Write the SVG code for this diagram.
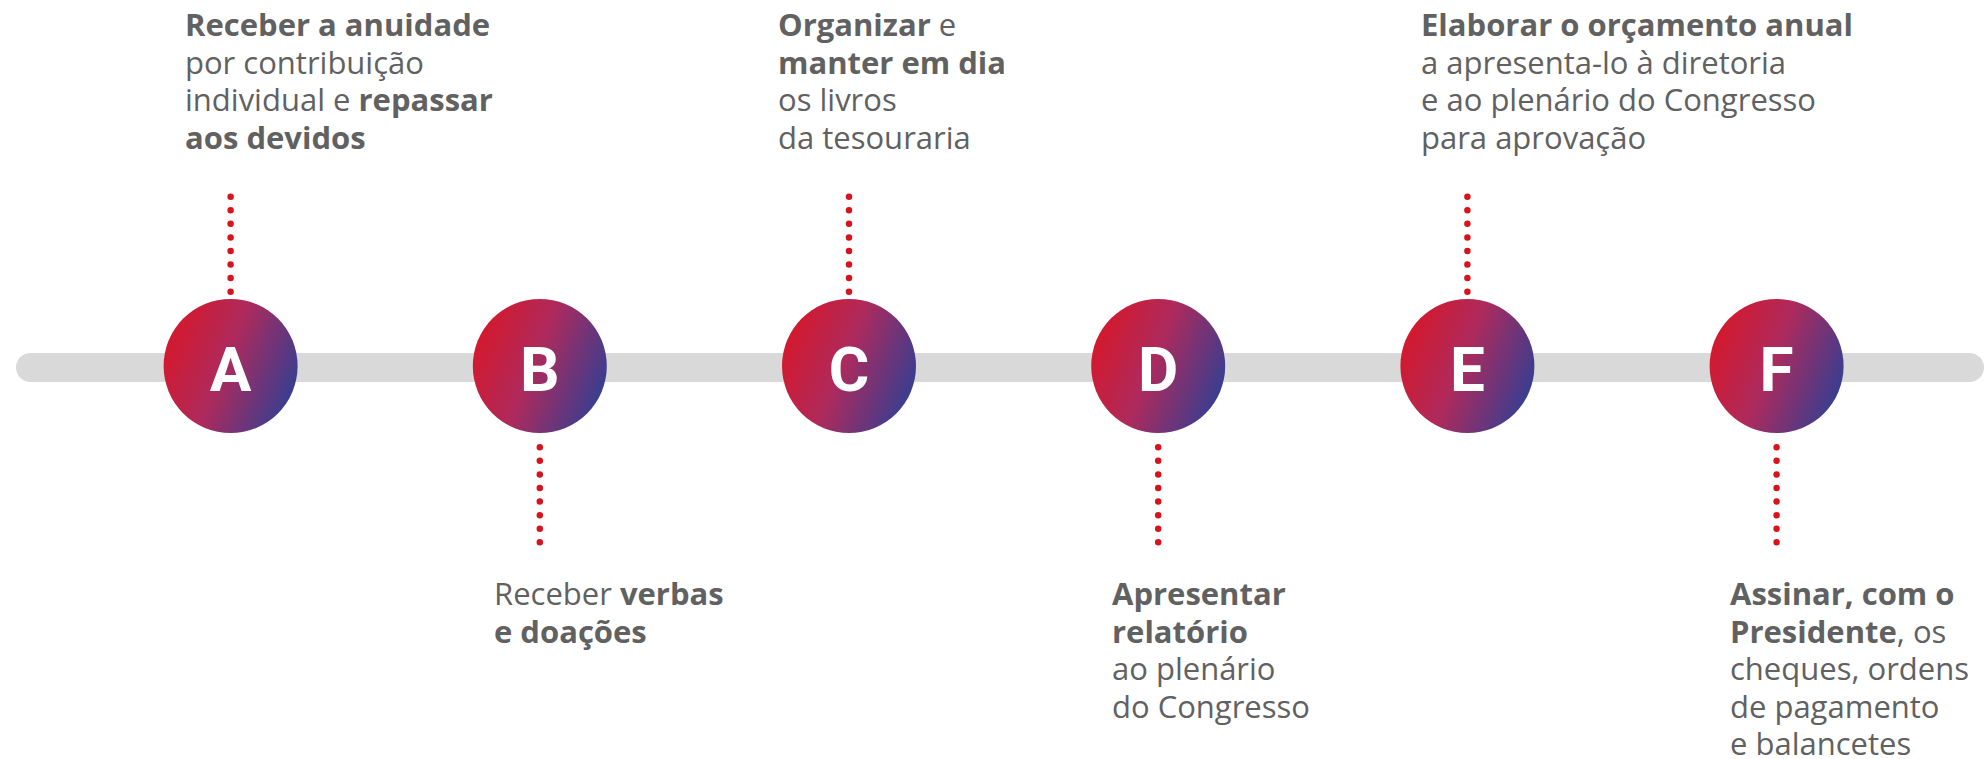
<svg xmlns="http://www.w3.org/2000/svg" width="1987" height="759" viewBox="0 0 1987 759">
  <defs>
    <linearGradient id="grad" x1="0" y1="0.3" x2="1" y2="0.7">
      <stop offset="0" stop-color="#d7172a"/>
      <stop offset="0.45" stop-color="#ae2a5c"/>
      <stop offset="1" stop-color="#323f93"/>
    </linearGradient>
    <style>
      .bar { fill: #d9d9d9; }
      .circ { fill: url(#grad); }
      .letter { font-family: Roboto, "Liberation Sans", sans-serif; font-weight: 700; font-size: 62px; fill: #ffffff; text-anchor: middle; }
      .dots { stroke: #d7141e; stroke-width: 6.5; stroke-linecap: round; stroke-dasharray: 0 13.57; fill: none; }
      .txt { font-family: "Open Sans", "Liberation Sans", sans-serif; font-size: 31px; fill: #616161; }
      .b { font-weight: 700; }
    </style>
  </defs>
  <rect width="1987" height="759" fill="#ffffff"/>
  <rect class="bar" x="16" y="353" width="1968" height="29" rx="14.5"/>
  <g id="connectors">
    <line class="dots" x1="230.6" y1="196.7" x2="230.6" y2="292"/>
    <line class="dots" x1="539.8" y1="447.3" x2="539.8" y2="543"/>
    <line class="dots" x1="849" y1="196.7" x2="849" y2="292"/>
    <line class="dots" x1="1158.2" y1="447.3" x2="1158.2" y2="543"/>
    <line class="dots" x1="1467.4" y1="196.7" x2="1467.4" y2="292"/>
    <line class="dots" x1="1776.6" y1="447.3" x2="1776.6" y2="543"/>
  </g>
  <g id="node-a">
    <circle class="circ" cx="230.6" cy="366" r="67"/>
    <text class="letter" x="230.6" y="390.5">A</text>
    <text class="txt" x="185" y="36"><tspan class="b">Receber a anuidade</tspan><tspan x="185" y="73.5">por contribuição</tspan><tspan x="185" y="111">individual e <tspan class="b">repassar</tspan></tspan><tspan x="185" y="148.5" class="b">aos devidos</tspan></text>
  </g>
  <g id="node-b">
    <circle class="circ" cx="539.8" cy="366" r="67"/>
    <text class="letter" x="539.8" y="390.5">B</text>
    <text class="txt" x="494" y="605">Receber <tspan class="b">verbas</tspan><tspan x="494" y="642.5" class="b">e doações</tspan></text>
  </g>
  <g id="node-c">
    <circle class="circ" cx="849" cy="366" r="67"/>
    <text class="letter" x="849" y="390.5">C</text>
    <text class="txt" x="778" y="36"><tspan class="b">Organizar</tspan> e<tspan x="778" y="73.5" class="b">manter em dia</tspan><tspan x="778" y="111">os livros</tspan><tspan x="778" y="148.5">da tesouraria</tspan></text>
  </g>
  <g id="node-d">
    <circle class="circ" cx="1158.2" cy="366" r="67"/>
    <text class="letter" x="1158.2" y="390.5">D</text>
    <text class="txt" x="1112" y="605"><tspan class="b">Apresentar</tspan><tspan x="1112" y="642.5" class="b">relatório</tspan><tspan x="1112" y="680">ao plenário</tspan><tspan x="1112" y="717.5">do Congresso</tspan></text>
  </g>
  <g id="node-e">
    <circle class="circ" cx="1467.4" cy="366" r="67"/>
    <text class="letter" x="1467.4" y="390.5">E</text>
    <text class="txt" x="1421" y="36"><tspan class="b">Elaborar o orçamento anual</tspan><tspan x="1421" y="73.5">a apresenta-lo à diretoria</tspan><tspan x="1421" y="111">e ao plenário do Congresso</tspan><tspan x="1421" y="148.5">para aprovação</tspan></text>
  </g>
  <g id="node-f">
    <circle class="circ" cx="1776.6" cy="366" r="67"/>
    <text class="letter" x="1776.6" y="390.5">F</text>
    <text class="txt" x="1730" y="605"><tspan class="b">Assinar, com o</tspan><tspan x="1730" y="642.5"><tspan class="b">Presidente</tspan>, os</tspan><tspan x="1730" y="680">cheques, ordens</tspan><tspan x="1730" y="717.5">de pagamento</tspan><tspan x="1730" y="755">e balancetes</tspan></text>
  </g>
</svg>
